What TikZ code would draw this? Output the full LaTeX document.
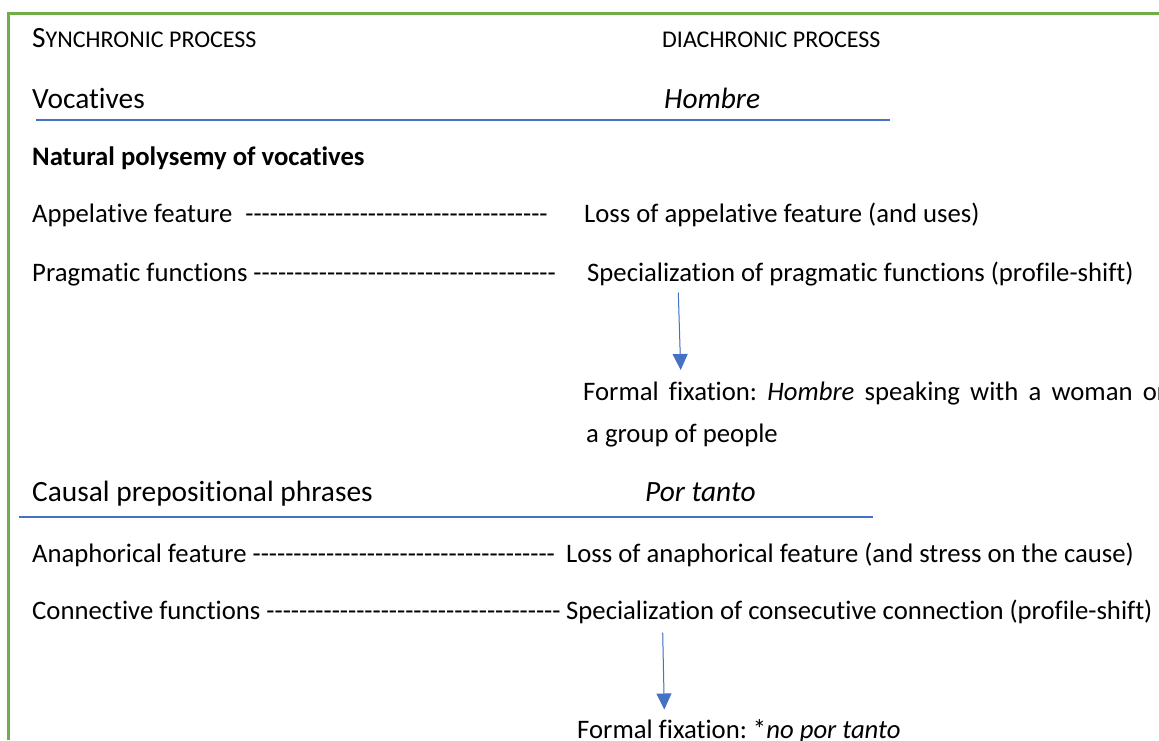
\documentclass[tikz,border=0pt]{standalone}
\usepackage{fontspec}
\setmainfont{Carlito}[Ligatures={TeXOff,NoCommon}]
\usetikzlibrary{arrows.meta}
\definecolor{frame}{HTML}{70AD47}
\definecolor{rule}{HTML}{4472C4}
\newcommand\body{\fontsize{26.7}{32}\selectfont}
\newcommand\head{\fontsize{29.4}{35}\selectfont}
\newcommand\smallcap{\fontsize{24}{29}\selectfont}
\def\dten{----------}
\frenchspacing
\tikzset{
  txt/.style={anchor=base west, inner sep=0pt, font=\body},
  hd/.style={anchor=base west, inner sep=0pt, font=\head},
  rulebar/.style={draw=rule, line width=1.3pt},
  flow/.style={draw=rule, line width=1pt, -{Triangle[length=16pt,width=15pt]}, fill=rule}
}
\begin{document}
\begin{tikzpicture}[x=1pt,y=-1pt]
\useasboundingbox (0,0) rectangle (1159,740);
% green frame along top and left edge
\draw[frame, line width=2.2pt] (8.5,740) -- (8.5,13.5) -- (1165,13.5);

% column titles
\node[txt] (syn) at (32,47) {{\head S}{\smallcap YNCHRONIC PROCESS}};
\node[txt, font=\smallcap] (dia) at (662,47) {DIACHRONIC PROCESS};

% first block: vocatives
\node[hd] (voc) at (32,108) {Vocatives};
\node[hd, font=\head\itshape] (hom) at (664,108) {Hombre};
\coordinate (r1a) at (36,120);
\coordinate (r1b) at (890,120);
\draw[rulebar] (r1a) -- (r1b);

\node[txt, font=\body\bfseries] (nat) at (32,165) {Natural polysemy of vocatives};

\node[txt] (app) at (32,222) {Appelative feature\hspace{13pt}\dten\dten\dten-------};
\node[txt] (loss1) at (584,222) {Loss of appelative feature (and uses)};

\node[txt] (prag) at (32,281) {Pragmatic functions \dten\dten\dten-------};
\node[txt] (spec1) at (587,281) {Specialization of pragmatic functions (profile-shift)};

\coordinate (a1s) at (678.3,292.5);
\coordinate (a1e) at (680.7,370);
\draw[flow] (a1s) -- (a1e);

\node[txt] (fix1) at (583,400) {\hbox to 583pt{Formal fixation: \textit{Hombre} speaking with a woman or}};
\node[txt] (grp) at (586,442) {a group of people};

% second block: causal prepositional phrases
\node[hd] (caus) at (32,501) {Causal prepositional phrases};
\node[hd, font=\head\itshape] (por) at (645,501) {Por tanto};
\coordinate (r2a) at (19,517);
\coordinate (r2b) at (873,517);
\draw[rulebar] (r2a) -- (r2b);

\node[txt] (ana) at (32,562) {Anaphorical feature \dten\dten\dten-------};
\node[txt] (loss2) at (566,562) {Loss of anaphorical feature (and stress on the cause)};

\node[txt] (con) at (32,619) {Connective functions \dten\dten\dten------};
\node[txt] (spec2) at (566,619) {Specialization of consecutive connection (profile-shift)};

\coordinate (a2s) at (662.7,632.5);
\coordinate (a2e) at (664.3,709.5);
\draw[flow] (a2s) -- (a2e);

\node[txt] (fix2) at (577,738) {Formal fixation: *\textit{no por tanto}};
\end{tikzpicture}
\end{document}
